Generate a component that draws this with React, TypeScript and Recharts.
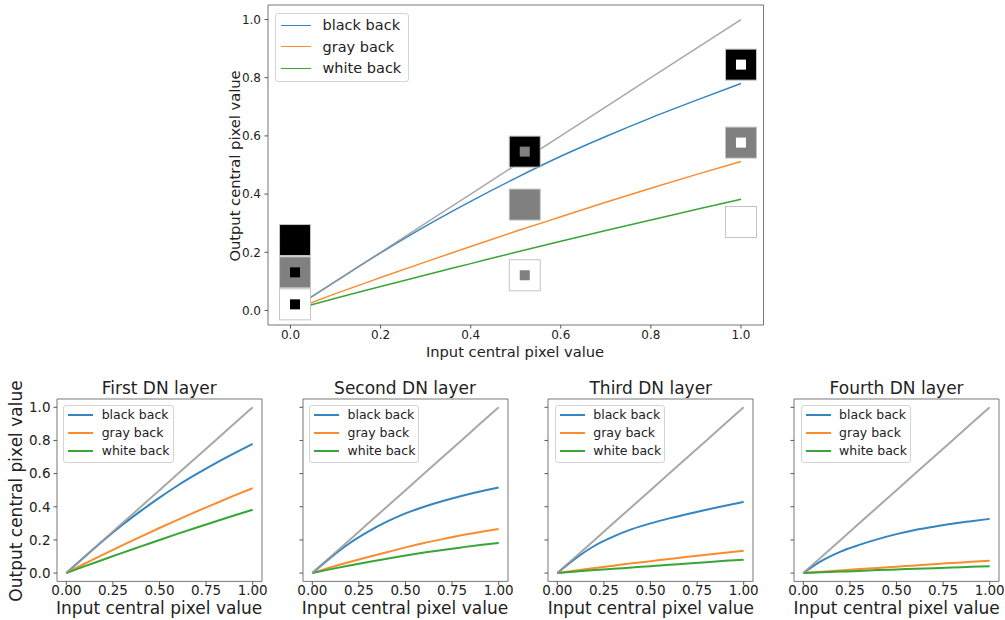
import React from 'react';
import {
  ComposedChart,
  Line,
  Scatter,
  XAxis,
  YAxis,
  ReferenceArea,
  Legend,
} from 'recharts';

// input central pixel value (x) shared by every curve
const inputs = [0, 0.1, 0.2, 0.3, 0.4, 0.5, 0.6, 0.7, 0.8, 0.9, 1.0];
const identity = [0, 0.1, 0.2, 0.3, 0.4, 0.5, 0.6, 0.7, 0.8, 0.9, 1.0];

// output central pixel value per DN layer
const layer1Black = [0, 0.1, 0.198, 0.29, 0.375, 0.455, 0.53, 0.598, 0.662, 0.722, 0.78];
const layer1Gray = [0, 0.058, 0.113, 0.167, 0.22, 0.272, 0.322, 0.372, 0.42, 0.467, 0.512];
const layer1White = [0, 0.042, 0.082, 0.122, 0.161, 0.2, 0.238, 0.275, 0.311, 0.347, 0.382];

const layer2Black = [0, 0.095, 0.18, 0.25, 0.31, 0.36, 0.4, 0.435, 0.465, 0.492, 0.516];
const layer2Gray = [0, 0.035, 0.067, 0.097, 0.126, 0.155, 0.182, 0.205, 0.228, 0.248, 0.266];
const layer2White = [0, 0.024, 0.046, 0.067, 0.087, 0.106, 0.124, 0.14, 0.155, 0.169, 0.181];

const layer3Black = [0, 0.09, 0.165, 0.22, 0.265, 0.3, 0.33, 0.357, 0.382, 0.406, 0.43];
const layer3Gray = [0, 0.016, 0.031, 0.045, 0.059, 0.072, 0.085, 0.098, 0.11, 0.123, 0.135];
const layer3White = [0, 0.009, 0.018, 0.026, 0.034, 0.042, 0.05, 0.058, 0.066, 0.074, 0.081];

const layer4Black = [0, 0.075, 0.13, 0.17, 0.205, 0.235, 0.26, 0.28, 0.298, 0.313, 0.327];
const layer4Gray = [0, 0.008, 0.016, 0.024, 0.031, 0.039, 0.046, 0.054, 0.061, 0.068, 0.075];
const layer4White = [0, 0.005, 0.009, 0.013, 0.018, 0.022, 0.026, 0.03, 0.034, 0.038, 0.042];

const layerTitles = ['First DN layer', 'Second DN layer', 'Third DN layer', 'Fourth DN layer'];
const seriesNames = ['black back', 'gray back', 'white back'];

// stimulus patches in the top panel: position, background level, centre level
const patchX = [0.01, 0.01, 0.01, 0.52, 0.52, 0.52, 1.0, 1.0, 1.0];
const patchY = [0.242, 0.131, 0.021, 0.546, 0.364, 0.121, 0.845, 0.577, 0.304];
const patchBack = [0, 0.5, 1, 0, 0.5, 1, 0, 0.5, 1];
const patchCentre = [0, 0, 0, 0.5, 0.5, 0.5, 1, 1, 1];

const topXTicks = [0, 0.2, 0.4, 0.6, 0.8, 1.0];
const yTicks = [0, 0.2, 0.4, 0.6, 0.8, 1.0];
const panelXTicks = [0, 0.25, 0.5, 0.75, 1.0];

const FONT = '"DejaVu Sans", Verdana, sans-serif';
const COLORS = ['#3585c0', '#fb8c2e', '#38a538'];
const IDENTITY_COLOR = '#999999';
const TEXT = '#222';
const FRAME = '#777';

const buildRows = (black: number[], gray: number[], white: number[]) =>
  inputs.map((x, i) => ({ x, ident: identity[i], black: black[i], gray: gray[i], white: white[i] }));

const layers = [
  buildRows(layer1Black, layer1Gray, layer1White),
  buildRows(layer2Black, layer2Gray, layer2White),
  buildRows(layer3Black, layer3Gray, layer3White),
  buildRows(layer4Black, layer4Gray, layer4White),
];

const patches = patchX.map((x, i) => ({ x, y: patchY[i], back: patchBack[i], centre: patchCentre[i] }));

const level = (v: number) => {
  const c = Math.round(v * 255);
  return `rgb(${c},${c},${c})`;
};

const PatchShape = (props: any) => {
  const { cx, cy, payload } = props;
  if (cx == null || cy == null) return null;
  const big = 31;
  const small = 10;
  return (
    <g>
      <rect x={cx - big / 2} y={cy - big / 2} width={big} height={big} fill={level(payload.back)} stroke="#c4c4c4" strokeWidth={1} />
      <rect x={cx - small / 2} y={cy - small / 2} width={small} height={small} fill={level(payload.centre)} />
    </g>
  );
};

type LegendStyle = { font: number; row: number; sample: number; gap: number; padL: number; padR: number; padT: number; padB: number; lw: number };

const makeLegend = (s: LegendStyle) => (props: any) => {
  const items = (props.payload || []).filter((p: any) => seriesNames.includes(p.value));
  return (
    <div
      style={{
        display: 'inline-block',
        border: '1px solid #d4d4d4',
        borderRadius: 3,
        background: 'rgba(255,255,255,0.85)',
        padding: `${s.padT}px ${s.padR}px ${s.padB}px ${s.padL}px`,
        fontFamily: FONT,
        fontSize: s.font,
        color: TEXT,
        lineHeight: 1,
      }}
    >
      {items.map((p: any) => (
        <div key={p.value} style={{ display: 'flex', alignItems: 'center', height: s.row, whiteSpace: 'nowrap' }}>
          <span style={{ display: 'inline-block', width: s.sample, borderTop: `${s.lw}px solid ${p.color}`, marginRight: s.gap }} />
          <span>{p.value}</span>
        </div>
      ))}
    </div>
  );
};

const topLegend = makeLegend({ font: 14.5, row: 21.5, sample: 30, gap: 11.5, padL: 5, padR: 7, padT: 1, padB: 2, lw: 1.5 });
const panelLegend = makeLegend({ font: 12.5, row: 18.2, sample: 25, gap: 8.4, padL: 4, padR: 3, padT: 0, padB: 1, lw: 2 });

const textStyle = (x: number, y: number, size: number, rotate = false): React.CSSProperties => ({
  position: 'absolute',
  left: x,
  top: y,
  transform: `translate(-50%, -50%)${rotate ? ' rotate(-90deg)' : ''}`,
  whiteSpace: 'nowrap',
  fontFamily: FONT,
  fontSize: size,
  color: TEXT,
});

const renderLines = (width: number) => [
  <Line key="black" dataKey="black" name={seriesNames[0]} type="monotone" stroke={COLORS[0]} strokeWidth={width} dot={false} isAnimationActive={false} />,
  <Line key="gray" dataKey="gray" name={seriesNames[1]} type="monotone" stroke={COLORS[1]} strokeWidth={width} dot={false} isAnimationActive={false} />,
  <Line key="white" dataKey="white" name={seriesNames[2]} type="monotone" stroke={COLORS[2]} strokeWidth={width} dot={false} isAnimationActive={false} />,
  <Line key="ident" dataKey="ident" stroke={IDENTITY_COLOR} strokeWidth={width} strokeOpacity={0.85} dot={false} legendType="none" isAnimationActive={false} />,
];

// top panel geometry
const TOP = { left: 222.5, yAxisW: 45, plotW: 495.5, plotH: 320, padT: 5, padR: 10, xAxisH: 30 };
// bottom panels geometry
const PANEL_LEFTS = [56.7, 302.5, 548.3, 794.1];
const PANEL = { top: 399.3, yAxisW: 40, plotW: 205, plotH: 182.4, padT: 5, padR: 5, xAxisH: 30 };

const tickStyle = (size: number) => ({ fill: TEXT, fontSize: size, fontFamily: FONT });

const TopChart = () => {
  const w = TOP.yAxisW + TOP.plotW + TOP.padR;
  const h = TOP.padT + TOP.plotH + TOP.xAxisH;
  return (
    <div style={{ position: 'absolute', left: TOP.left, top: 0 }}>
      <ComposedChart width={w} height={h} data={layers[0]} margin={{ top: TOP.padT, right: TOP.padR, bottom: 0, left: 0 }}>
        <XAxis
          type="number"
          dataKey="x"
          domain={[-0.05, 1.05]}
          allowDataOverflow
          ticks={topXTicks}
          interval={0}
          tickFormatter={(v: number) => v.toFixed(1)}
          height={TOP.xAxisH}
          axisLine={false}
          tickSize={3.5}
          tickMargin={1.5}
          tickLine={{ stroke: '#555' }}
          tick={tickStyle(12)}
        />
        <YAxis
          type="number"
          domain={[-0.05, 1.05]}
          allowDataOverflow
          ticks={yTicks}
          interval={0}
          tickFormatter={(v: number) => v.toFixed(1)}
          width={TOP.yAxisW}
          axisLine={false}
          tickSize={3.5}
          tickMargin={3.5}
          tickLine={{ stroke: '#555' }}
          tick={tickStyle(12)}
        />
        {renderLines(1.5)}
        <Scatter data={patches} dataKey="y" shape={PatchShape} legendType="none" isAnimationActive={false} />
        <ReferenceArea x1={-0.05} x2={1.05} y1={-0.05} y2={1.05} fill="none" stroke={FRAME} strokeWidth={1} ifOverflow="visible" />
        <Legend
          layout="vertical"
          align="center"
          verticalAlign="middle"
          content={topLegend}
          wrapperStyle={{ left: 52.5, top: 12.7, width: 'auto' }}
        />
      </ComposedChart>
    </div>
  );
};

const LayerPanel = ({ index }: { index: number }) => {
  const frameLeft = PANEL_LEFTS[index];
  const w = PANEL.yAxisW + PANEL.plotW + PANEL.padR;
  const h = PANEL.padT + PANEL.plotH + PANEL.xAxisH;
  const centreX = frameLeft + PANEL.plotW / 2;
  return (
    <>
      <div style={{ position: 'absolute', left: frameLeft - PANEL.yAxisW, top: PANEL.top - PANEL.padT }}>
        <ComposedChart width={w} height={h} data={layers[index]} margin={{ top: PANEL.padT, right: PANEL.padR, bottom: 0, left: 0 }}>
          <XAxis
            type="number"
            dataKey="x"
            domain={[-0.05, 1.05]}
            allowDataOverflow
            ticks={panelXTicks}
            interval={0}
            tickFormatter={(v: number) => v.toFixed(2)}
            height={PANEL.xAxisH}
            axisLine={false}
            tickSize={3.5}
            tickMargin={1}
            tickLine={{ stroke: '#555' }}
            tick={tickStyle(13.5)}
          />
          <YAxis
            type="number"
            domain={[-0.05, 1.05]}
            allowDataOverflow
            ticks={yTicks}
            interval={0}
            tickFormatter={(v: number) => (index === 0 ? v.toFixed(1) : '')}
            width={PANEL.yAxisW}
            axisLine={false}
            tickSize={3.5}
            tickMargin={3}
            tickLine={{ stroke: '#555' }}
            tick={tickStyle(13.5)}
          />
          {renderLines(2)}
          <ReferenceArea x1={-0.05} x2={1.05} y1={-0.05} y2={1.05} fill="none" stroke={FRAME} strokeWidth={1} ifOverflow="visible" />
          <Legend
            layout="vertical"
            align="center"
            verticalAlign="middle"
            content={panelLegend}
            wrapperStyle={{ left: PANEL.yAxisW + 6.6, top: PANEL.padT + 5.7, width: 'auto' }}
          />
        </ComposedChart>
      </div>
      <div style={textStyle(centreX, 388.3, 17)}>{layerTitles[index]}</div>
      <div style={textStyle(centreX, 608.3, 17)}>Input central pixel value</div>
    </>
  );
};

export default function App() {
  return (
    <div style={{ position: 'absolute', left: 0, top: 0, width: 1005, height: 620, background: '#fff', overflow: 'hidden' }}>
      <TopChart />
      <div style={textStyle(515, 350.5, 14.7)}>Input central pixel value</div>
      <div style={textStyle(234, 166, 14.7, true)}>Output central pixel value</div>
      {layerTitles.map((_, i) => (
        <LayerPanel key={i} index={i} />
      ))}
      <div style={textStyle(16, 490.5, 17, true)}>Output central pixel value</div>
    </div>
  );
}
